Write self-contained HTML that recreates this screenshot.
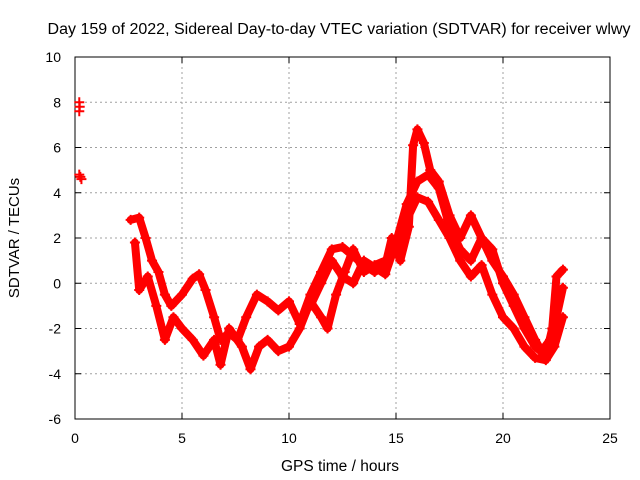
<!DOCTYPE html>
<html><head><meta charset="utf-8"><style>
body{margin:0;background:#fff;}
svg{display:block;font-family:"Liberation Sans",sans-serif;}
</style></head><body>
<svg id="chart" width="640" height="480">
<rect width="640" height="480" fill="#fff"/>
<text x="339" y="34" font-size="15.5" text-anchor="middle" textLength="583" lengthAdjust="spacingAndGlyphs">Day 159 of 2022, Sidereal Day-to-day VTEC variation (SDTVAR) for receiver wlwy</text>
<g id="grid"></g>
<g id="axes"></g>
<g id="marks"></g>
<text x="340" y="471" font-size="15.5" text-anchor="middle">GPS time / hours</text>
<text transform="translate(19,238) rotate(-90)" font-size="15" text-anchor="middle">SDTVAR / TECUs</text>
</svg>
<script>
const xTicks=[0,5,10,15,20,25];
const yTicks=[-6,-4,-2,0,2,4,6,8,10];
const seriesA=[[0.2,8.0],[0.22,7.8],[0.2,7.6],[0.25,4.7],[0.2,4.8],[0.3,4.6]];
const seriesB=[[2.6,2.8],[3.0,2.9],[3.3,2.0],[3.6,1.0],[3.9,0.5],[4.2,-0.5],[4.5,-1.0],[5.0,-0.5],[5.5,0.2],[5.8,0.4],[6.1,-0.3],[6.5,-1.5],[6.8,-2.5],[7.2,-2.2],[7.6,-2.5],[8.0,-1.5],[8.5,-0.5],[9.0,-0.8],[9.5,-1.2],[10.0,-0.8],[10.5,-1.8],[11.0,-0.5],[11.5,0.5],[12.0,1.5],[12.5,1.6],[13.0,1.2],[13.5,0.8],[14.0,0.5],[14.5,0.8],[14.8,2.0],[15.2,1.0],[15.6,2.5],[15.8,6.1],[16.0,6.8],[16.3,6.2],[16.6,5.0],[17.0,4.5],[17.5,3.0],[18.0,2.0],[18.5,3.0],[19.0,2.0],[19.5,1.0],[20.0,0.3],[20.5,-0.5],[21.0,-1.5],[21.5,-2.5],[21.8,-3.0],[22.2,-2.5],[22.5,-1.5],[22.8,-0.2]];
const seriesC=[[2.8,1.8],[3.0,-0.3],[3.4,0.3],[3.8,-1.0],[4.2,-2.5],[4.6,-1.5],[5.0,-2.0],[5.5,-2.5],[6.0,-3.2],[6.5,-2.5],[6.8,-3.6],[7.2,-2.0],[7.8,-2.8],[8.2,-3.8],[8.6,-2.8],[9.0,-2.5],[9.5,-3.0],[10.0,-2.8],[10.5,-2.0],[11.0,-0.8],[11.5,-1.5],[11.8,-2.0],[12.2,-0.5],[12.6,0.5],[13.0,1.5],[13.5,0.5],[14.0,0.8],[14.5,1.0],[15.0,1.5],[15.5,2.8],[16.0,3.8],[16.5,3.6],[17.0,2.8],[17.5,2.0],[18.0,1.0],[18.5,0.3],[19.0,0.8],[19.5,-0.5],[20.0,-1.5],[20.5,-2.0],[21.0,-2.8],[21.5,-3.3],[22.0,-3.4],[22.4,-2.8],[22.8,-1.5]];
const seriesD=[[11.0,-1.0],[11.5,0.0],[12.0,1.0],[12.5,0.3],[13.0,0.0],[13.5,1.0],[14.0,0.7],[14.5,0.4],[15.0,1.8],[15.5,3.5],[16.0,4.5],[16.5,4.8],[17.0,4.2],[17.5,2.5],[18.0,1.5],[18.5,1.0],[19.0,2.0],[19.5,1.5],[20.0,0.0],[20.5,-1.0],[21.0,-2.0],[21.5,-2.8],[22.0,-3.2],[22.3,-2.0],[22.5,0.3],[22.8,0.6]];
const X0=75,X1=610,Y0=419,Y1=57;
const xs=v=>X0+(v-0)/25*(X1-X0);
const ys=v=>Y0-(v+6)/16*(Y0-Y1);
const NS="http://www.w3.org/2000/svg";
function mk(tag,attrs,parent){const e=document.createElementNS(NS,tag);for(const k in attrs)e.setAttribute(k,attrs[k]);parent.appendChild(e);return e;}
const grid=document.getElementById('grid'),axes=document.getElementById('axes'),marks=document.getElementById('marks');
xTicks.forEach(t=>{
  if(t>0&&t<25){const l=mk('line',{x1:xs(t),x2:xs(t),y1:Y1,y2:Y0,stroke:'#a0a0a0','stroke-dasharray':'2,3'},grid);
  
  }
  const tx=mk('text',{x:xs(t),y:Y0+24,'font-size':14,'text-anchor':'middle'},axes);tx.textContent=t;
  
  
  mk('line',{x1:xs(t),x2:xs(t),y1:Y0,y2:Y0-6,stroke:'#000'},axes);
  mk('line',{x1:xs(t),x2:xs(t),y1:Y1,y2:Y1+6,stroke:'#000'},axes);
});
yTicks.forEach(t=>{
  if(t>-6&&t<10){const l=mk('line',{x1:X0,x2:X1,y1:ys(t),y2:ys(t),stroke:'#a0a0a0','stroke-dasharray':'2,3'},grid);
  
  }
  const tx=mk('text',{x:X0-14,y:ys(t)+5,'font-size':14,'text-anchor':'end'},axes);tx.textContent=t;
  
  
  mk('line',{x1:X0,x2:X0+6,y1:ys(t),y2:ys(t),stroke:'#000'},axes);
  mk('line',{x1:X1,x2:X1-6,y1:ys(t),y2:ys(t),stroke:'#000'},axes);
});
mk('rect',{x:X0,y:Y1,width:X1-X0,height:Y0-Y1,fill:'none',stroke:'#000'},axes);
function drawSeries(data,name,line){
  if(line){const pl=mk('polyline',{points:data.map(p=>xs(p[0])+','+ys(p[1])).join(' '),fill:'none',stroke:'#ff0000','stroke-width':8,'stroke-linejoin':'round','stroke-linecap':'round'},marks);
  
  }
  data.forEach(p=>{const x=xs(p[0]),y=ys(p[1]);
    const path=mk('path',{d:`M${x-5},${y}H${x+5}M${x},${y-5}V${y+5}`,stroke:'#ff0000','stroke-width':2},marks);
    
    
  });
}
drawSeries(seriesA,'series-a',false);
drawSeries(seriesB,'series-b',true);
drawSeries(seriesC,'series-c',true);
drawSeries(seriesD,'series-d',true);
</script>
</body></html>
